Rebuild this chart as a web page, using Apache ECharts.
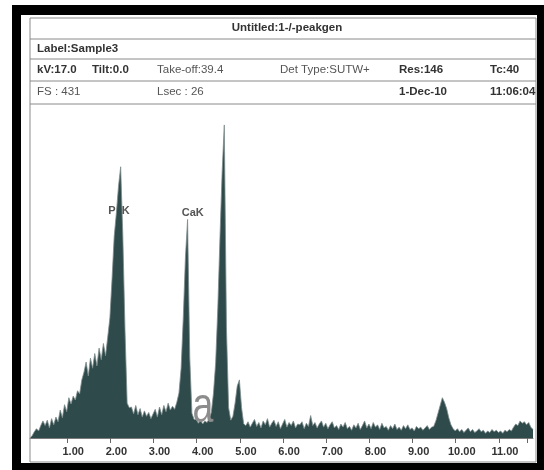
<!DOCTYPE html>
<html>
<head>
<meta charset="utf-8">
<script src="https://cdn.jsdelivr.net/npm/echarts@6.0.0/dist/echarts.min.js"></script>
<style>
  html, body { margin: 0; padding: 0; background: #fff; }
  #frame { position: absolute; left: 12px; top: 5px; width: 532px; height: 465px; background: #000; }
  #paper { position: absolute; left: 21px; top: 15px; width: 516px; height: 448px; background: #fff; }
  #chart { position: absolute; left: 0; top: 0; width: 544px; height: 470px; }
</style>
</head>
<body>
<div id="frame"></div>
<div id="paper"></div>
<div id="chart"></div>
<script>
// spectrum channels, 0.05 keV wide, starting at 0 keV
const channelWidth = 0.05;

// counts per channel
const bremsLow = [0, 3, 8, 12, 9, 16, 22, 16, 23, 13, 25, 17, 27, 21, 36, 26, 43, 34, 52, 44,
  54, 49, 61, 57, 75, 85, 98, 80, 103, 90, 109, 93, 116, 101, 122, 106];
const peakP = [130, 155, 205, 260, 290, 325, 350, 260, 140, 45, 39];
const gapPCa = [40, 31, 42, 30, 38, 27, 35, 28, 33, 25, 31, 37, 27, 40, 30, 42, 34, 45, 36, 41, 37, 46];
const peakCa = [58, 90, 155, 233, 282, 104, 32, 24];
const gapCaTi = [24, 19, 23, 18, 22, 20, 25, 33];
const peak45 = [58, 97, 168, 259, 343, 404, 142, 39, 23];
const peak49 = [28, 45, 67, 75, 39, 18];
const tailMid = [16, 21, 14, 19, 24, 15, 20, 13, 22, 17,
  25, 14, 19, 23, 15, 21, 12, 18, 24, 14,
  20, 16, 22, 13, 18, 17, 21, 12, 19, 15,
  29, 16, 20, 13, 18, 22, 14, 19, 12, 17,
  21, 13, 16, 11, 18, 14, 20, 12, 15, 10,
  17, 13, 19, 11, 16, 22, 13, 18, 12, 20,
  14, 17, 11, 19, 13, 15, 10, 16, 12, 18,
  11, 14, 10, 16, 12, 17, 11, 13, 9, 15,
  12, 14, 10, 13, 16, 11, 14];
const peak97 = [15, 22, 32, 42, 52, 46, 38, 26, 17, 12];
const tailHigh = [9, 12, 8, 11, 7, 10, 13, 8, 11, 7, 9, 12, 8, 10, 6, 9, 7, 11, 8, 10,
  7, 9, 6, 10, 8, 11, 9, 14, 18, 16, 22, 19, 21, 17, 20, 14, 11];

const peakLabels = [
  { name: 'P  K', energy: 2.06, height: 293 },
  { name: 'CaK', energy: 3.77, height: 291 },
];

const headerTitle = 'Untitled:1-/-peakgen';
const headerLabel = 'Label:Sample3';
const headerRow1 = [
  ['kV:17.0', 37, true], ['Tilt:0.0', 92, true], ['Take-off:39.4', 157, false],
  ['Det Type:SUTW+', 280, false], ['Res:146', 399, true], ['Tc:40', 490, true],
];
const headerRow2 = [
  ['FS : 431', 37, false], ['Lsec : 26', 157, false], ['1-Dec-10', 399, true], ['11:06:04', 490, true],
];

const counts = [].concat(bremsLow, peakP, gapPCa, peakCa, gapCaTi, peak45, peak49, tailMid, peak97, tailHigh);
const spectrum = counts.map((c, i) => [+(i * channelWidth).toFixed(2), c]);

const FONT = '"Liberation Sans", Arial, sans-serif';

function headerText(text, x, y, bold, align) {
  return {
    type: 'text',
    x: x,
    y: y,
    z: 10,
    style: {
      text: text,
      font: (bold ? 'bold ' : '') + '11.5px ' + FONT,
      fill: bold ? '#333' : '#555',
      textAlign: align || 'left',
      textVerticalAlign: 'middle',
    },
  };
}

function hLine(y) {
  return {
    type: 'line',
    z: 10,
    shape: { x1: 30, y1: y, x2: 536, y2: y },
    style: { stroke: '#8a8a8a', lineWidth: 1 },
  };
}

const chart = echarts.init(document.getElementById('chart'), null, { renderer: 'canvas' });

const option = {
  animation: false,
  backgroundColor: 'transparent',
  grid: [
    { left: 30, right: 11, top: 104, bottom: 32 },
    // tick-only axis from 1 keV, shifted a few px left: the scan's ticks sit left of their labels
    { left: 67, right: 17, top: 104, bottom: 32 },
  ],
  xAxis: [
    {
      type: 'value',
      gridIndex: 0,
      min: 0,
      max: 11.65,
      interval: 1,
      axisLine: { show: true, lineStyle: { color: '#7a7a7a', width: 1 } },
      axisTick: { show: false },
      splitLine: { show: false },
      axisLabel: {
        showMinLabel: false,
        showMaxLabel: false,
        margin: 8,
        fontFamily: FONT,
        fontWeight: 'bold',
        fontSize: 11,
        color: '#333',
        formatter: (v) => v.toFixed(2),
      },
    },
    {
      type: 'value',
      gridIndex: 1,
      min: 1,
      max: 11.65,
      interval: 1,
      axisLine: { show: false },
      axisTick: { show: true, length: 5, lineStyle: { color: '#666' } },
      axisLabel: { show: false },
      splitLine: { show: false },
    },
  ],
  yAxis: [
    { type: 'value', gridIndex: 0, min: 0, max: 431, show: false },
    { type: 'value', gridIndex: 1, min: 0, max: 431, show: false },
  ],
  series: [
    {
      type: 'line',
      xAxisIndex: 0,
      yAxisIndex: 0,
      data: spectrum,
      symbol: 'none',
      sampling: 'none',
      lineStyle: { color: '#7d8b8b', width: 0.8 },
      areaStyle: { color: '#2e4a4b', opacity: 1 },
      markPoint: {
        symbol: 'circle',
        symbolSize: 0,
        label: {
          show: true,
          position: 'inside',
          formatter: '{b}',
          fontFamily: FONT,
          fontWeight: 'bold',
          fontSize: 11,
          color: '#555',
        },
        data: peakLabels.map((p) => ({ name: p.name, coord: [p.energy, p.height] })),
      },
    },
  ],
  graphic: [
    {
      type: 'rect',
      z: 10,
      shape: { x: 30, y: 18, width: 506, height: 444 },
      style: { fill: null, stroke: '#8a8a8a', lineWidth: 1 },
    },
    hLine(39),
    hLine(59),
    hLine(81),
    hLine(104),
    headerText(headerTitle, 287, 28, true, 'center'),
    headerText(headerLabel, 37, 49, true),
    ...headerRow1.map((t) => headerText(t[0], t[1], 70, t[2])),
    ...headerRow2.map((t) => headerText(t[0], t[1], 92, t[2])),
    {
      type: 'text',
      x: 203,
      y: 408,
      z: 10,
      scaleX: 0.75,
      style: {
        text: 'a',
        font: '50px ' + FONT,
        fill: '#8c8c8c',
        textAlign: 'center',
        textVerticalAlign: 'middle',
      },
    },
  ],
};

chart.setOption(option);
</script>
</body>
</html>
